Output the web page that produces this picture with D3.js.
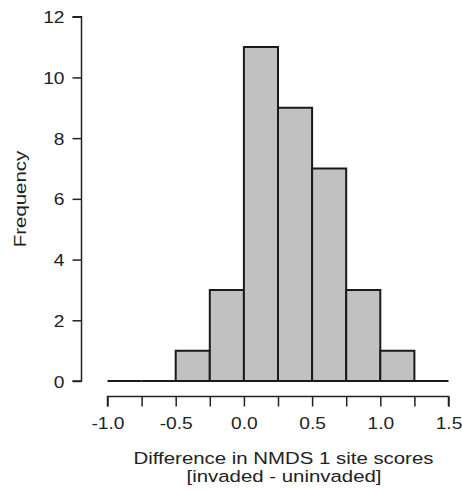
<!DOCTYPE html>
<html><head><meta charset="utf-8">
<script src="https://cdn.jsdelivr.net/npm/d3@7"></script>
<style>body{margin:0;background:#fff}svg{display:block}text{font-family:"Liberation Sans",Arial,sans-serif;fill:#222}</style>
</head><body><svg id="c" width="462" height="491"></svg>
<script>
const binEdges = [-1.0,-0.75,-0.5,-0.25,0.0,0.25,0.5,0.75,1.0,1.25,1.5];
const counts = [0,0,1,3,11,9,7,3,1,0];
const xTicks = [-1.0,-0.75,-0.5,-0.25,0.0,0.25,0.5,0.75,1.0,1.25,1.5];
const xLabels = [-1.0,-0.5,0.0,0.5,1.0,1.5];
const yTicks = [0,2,4,6,8,10,12];

const SX = 1.2; // horizontal glyph stretch seen in the reference
const svg = d3.select("#c");
const x = d3.scaleLinear().domain([-1,1.5]).range([107.5,448.5]);
const y = d3.scaleLinear().domain([0,12]).range([381,16.7]);

const bins = counts.map((c,i)=>({x0:binEdges[i],x1:binEdges[i+1],c}));
svg.append("g").selectAll("path").data(bins).join("path")
  .attr("d",d=>`M${x(d.x0)},${y(0)}V${y(d.c)}H${x(d.x1)}V${y(0)}Z`)
  .attr("fill","#c0c1c0").attr("stroke","#1a1a1a").attr("stroke-width",2)
  .attr("stroke-linejoin","miter");

function fmt(d){ return (d<0?"-":"")+Math.abs(d).toFixed(1); }

// y axis
const yAxis = d3.axisLeft(y).tickValues(yTicks).tickSize(9).tickFormat(d3.format("d"));
const gy = svg.append("g").attr("transform","translate(81.5,0)").call(yAxis);
gy.attr("font-family",null).attr("font-size",null);
gy.select(".domain").attr("d",`M-9,${y(12)}H0V${y(0)}H-9`).attr("stroke","#222").attr("stroke-width",1.5);
gy.selectAll(".tick line").attr("stroke","#222").attr("stroke-width",1.5);
gy.selectAll(".tick text").attr("x",null).attr("dy",null)
  .attr("transform",`translate(-17,6) scale(${SX},1)`)
  .attr("text-anchor","end").attr("font-size",16).style("fill","#222");

// x axis
const xAxis = d3.axisBottom(x).tickValues(xTicks).tickSize(10)
  .tickFormat(d=> xLabels.some(v=>Math.abs(v-d)<1e-9) ? fmt(d) : "");
const gx = svg.append("g").attr("transform","translate(0,396.5)").call(xAxis);
gx.attr("font-family",null).attr("font-size",null);
gx.select(".domain").attr("d",`M${x(-1)},10V0H${x(1.5)}V10`).attr("stroke","#222").attr("stroke-width",1.5);
gx.selectAll(".tick line").attr("stroke","#222").attr("stroke-width",1.5);
gx.selectAll(".tick text").attr("y",null).attr("dy",null)
  .attr("transform",`translate(0,32.5) scale(${SX},1)`)
  .attr("text-anchor","middle").attr("font-size",16).style("fill","#222");

svg.append("text").attr("transform",`translate(25.5,199) rotate(-90) scale(${SX},1)`)
  .attr("text-anchor","middle").attr("font-size",17).text("Frequency");
svg.append("text").attr("transform",`translate(283.5,464) scale(${SX},1)`)
  .attr("text-anchor","middle").attr("font-size",17).text("Difference in NMDS 1 site scores");
svg.append("text").attr("transform",`translate(284,481.5) scale(${SX},1)`)
  .attr("text-anchor","middle").attr("font-size",17).text("[invaded - uninvaded]");
</script></body></html>
